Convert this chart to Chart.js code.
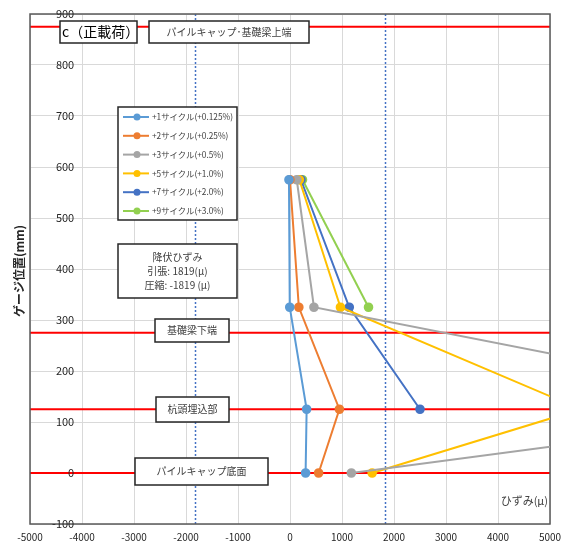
<!DOCTYPE html>
<html>
<head>
<meta charset="utf-8">
<title>ひずみ分布 c（正載荷）</title>
<script src="https://cdn.jsdelivr.net/npm/chart.js@4/dist/chart.umd.min.js"></script>
<style>
  html, body { margin: 0; padding: 0; background: #fff; }
  #wrap { width: 571px; height: 547px; }
</style>
</head>
<body>
<div id="wrap"><canvas id="strainChart"></canvas></div>
<script>
// ゲージ位置 (mm), 上から順
const gaugeHeights = [575, 325, 125, 0];

// 各サイクルのひずみ (μ)
const cycle1 = [-20, -5, 320, 300];
const cycle2 = [0, 170, 950, 550];
const cycle3 = [130, 460, 10450, 1180];
const cycle5 = [180, 970, 5590, 1580];
const cycle7 = [210, 1140, 2500, null];
const cycle9 = [240, 1510, null, null];

const seriesLabels = [
  '+1サイクル(+0.125%)',
  '+2サイクル(+0.25%)',
  '+3サイクル(+0.5%)',
  '+5サイクル(+1.0%)',
  '+7サイクル(+2.0%)',
  '+9サイクル(+3.0%)'
];
const seriesValues = [cycle1, cycle2, cycle3, cycle5, cycle7, cycle9];
const seriesColors = ['#5B9BD5', '#ED7D31', '#A5A5A5', '#FFC000', '#4472C4', '#92D050'];

// 降伏ひずみ (μ) と 部材位置 (mm)
const yieldStrain = 1819;
const memberLevels = [875, 275, 125, 0];

const FONT = "'Noto Sans CJK JP', 'Noto Sans', sans-serif";

const datasets = seriesValues.map((vals, i) => ({
  label: seriesLabels[i],
  data: vals
    .map((v, j) => (v === null ? null : { x: v, y: gaugeHeights[j] }))
    .filter(p => p !== null),
  borderColor: seriesColors[i],
  backgroundColor: seriesColors[i],
  borderWidth: 2,
  pointRadius: 3.8,
  pointHoverRadius: 3.8,
  showLine: true,
  tension: 0
}));

// text boxes placed on the plot
const boxes = [
  { lines: ['c（正載荷）'], x: 60, y: 21, w: 77, h: 22, size: 14 },
  { lines: ['パイルキャップ･基礎梁上端'], x: 149, y: 21, w: 160, h: 22, size: 10 },
  { lines: ['降伏ひずみ', '引張: ' + yieldStrain + '(μ)', '圧縮: -' + yieldStrain + ' (μ)'], x: 118, y: 244, w: 119, h: 54, size: 10 },
  { lines: ['基礎梁下端'], x: 155, y: 319, w: 74, h: 23, size: 10 },
  { lines: ['杭頭埋込部'], x: 156, y: 397, w: 73, h: 25, size: 10 },
  { lines: ['パイルキャップ底面'], x: 135, y: 458, w: 133, h: 27, size: 10 }
];

const refLines = {
  id: 'refLines',
  beforeDatasetsDraw(chart) {
    const { ctx, chartArea: a, scales: { x, y } } = chart;
    ctx.save();
    ctx.beginPath();
    ctx.rect(a.left, a.top, a.right - a.left, a.bottom - a.top);
    ctx.clip();

    // yield strain lines
    ctx.strokeStyle = '#4472C4';
    ctx.lineWidth = 1.5;
    ctx.setLineDash([2, 2]);
    [-yieldStrain, yieldStrain].forEach(v => {
      const px = Math.round(x.getPixelForValue(v)) + 0.5;
      ctx.beginPath();
      ctx.moveTo(px, a.top);
      ctx.lineTo(px, a.bottom);
      ctx.stroke();
    });

    // member levels
    ctx.setLineDash([]);
    ctx.strokeStyle = '#FF0000';
    ctx.lineWidth = 2;
    memberLevels.forEach(v => {
      const py = y.getPixelForValue(v);
      ctx.beginPath();
      ctx.moveTo(a.left, py);
      ctx.lineTo(a.right, py);
      ctx.stroke();
    });
    ctx.restore();

    // plot frame
    ctx.save();
    ctx.strokeStyle = '#595959';
    ctx.lineWidth = 1.5;
    ctx.strokeRect(a.left, a.top, a.right - a.left, a.bottom - a.top);
    ctx.restore();
  }
};

const overlay = {
  id: 'overlay',
  afterDraw(chart) {
    const { ctx } = chart;
    ctx.save();

    // text boxes
    boxes.forEach(b => {
      ctx.fillStyle = '#fff';
      ctx.fillRect(b.x, b.y, b.w, b.h);
      ctx.strokeStyle = '#262626';
      ctx.lineWidth = 1.5;
      ctx.strokeRect(b.x, b.y, b.w, b.h);
      ctx.fillStyle = b.size > 12 ? '#000' : '#404040';
      ctx.font = b.size + 'px ' + FONT;
      ctx.textAlign = b.size > 12 ? 'left' : 'center';
      ctx.textBaseline = 'middle';
      const lh = b.size + 4;
      const top = b.y + b.h / 2 - (lh * (b.lines.length - 1)) / 2;
      b.lines.forEach((t, i) => {
        const tx = b.size > 12 ? b.x + 2 : b.x + b.w / 2;
        ctx.fillText(t, tx, top + i * lh);
      });
    });

    // legend
    const lx = 118, ly = 107, lw = 119, lh = 113;
    ctx.fillStyle = '#fff';
    ctx.fillRect(lx, ly, lw, lh);
    ctx.strokeStyle = '#262626';
    ctx.lineWidth = 1.5;
    ctx.strokeRect(lx, ly, lw, lh);
    ctx.font = '8.3px ' + FONT;
    ctx.textAlign = 'left';
    ctx.textBaseline = 'middle';
    seriesLabels.forEach((lab, i) => {
      const ey = ly + 10 + i * 18.8;
      ctx.strokeStyle = seriesColors[i];
      ctx.lineWidth = 2;
      ctx.beginPath();
      ctx.moveTo(lx + 5, ey);
      ctx.lineTo(lx + 31, ey);
      ctx.stroke();
      ctx.fillStyle = seriesColors[i];
      ctx.beginPath();
      ctx.arc(lx + 19, ey, 3.5, 0, Math.PI * 2);
      ctx.fill();
      ctx.fillStyle = '#404040';
      ctx.fillText(lab, lx + 34, ey);
    });

    // axis titles
    ctx.fillStyle = '#404040';
    ctx.font = '11px ' + FONT;
    ctx.textAlign = 'right';
    ctx.fillText('ひずみ(μ)', 548, 501);

    ctx.translate(19, 271);
    ctx.rotate(-Math.PI / 2);
    ctx.fillStyle = '#262626';
    ctx.font = 'bold 12px ' + FONT;
    ctx.textAlign = 'center';
    ctx.fillText('ゲージ位置(mm)', 0, 0);
    ctx.restore();
  }
};

const ctx = document.getElementById('strainChart').getContext('2d');
const strainChart = new Chart(ctx, {
  type: 'scatter',
  data: { datasets: datasets },
  options: {
    responsive: true,
    maintainAspectRatio: false,
    animation: false,
    layout: { padding: { left: 30, right: 21, top: 14, bottom: 0 } },
    plugins: {
      legend: { display: false },
      tooltip: { enabled: false }
    },
    scales: {
      x: {
        type: 'linear',
        min: -5000,
        max: 5000,
        afterFit: scale => { scale.height = 23; },
        ticks: {
          stepSize: 1000,
          padding: 7,
          color: '#262626',
          font: { family: FONT, size: 10 },
          callback: v => String(v)
        },
        grid: { color: '#D9D9D9', drawTicks: false },
        border: { display: false }
      },
      y: {
        type: 'linear',
        min: -100,
        max: 900,
        position: { x: -4150 },
        ticks: {
          stepSize: 100,
          z: 1,
          color: '#262626',
          font: { family: FONT, size: 11 },
          callback: v => String(v)
        },
        grid: { color: '#D9D9D9', drawTicks: false },
        border: { display: false }
      }
    }
  },
  plugins: [refLines, overlay]
});
</script>
</body>
</html>
